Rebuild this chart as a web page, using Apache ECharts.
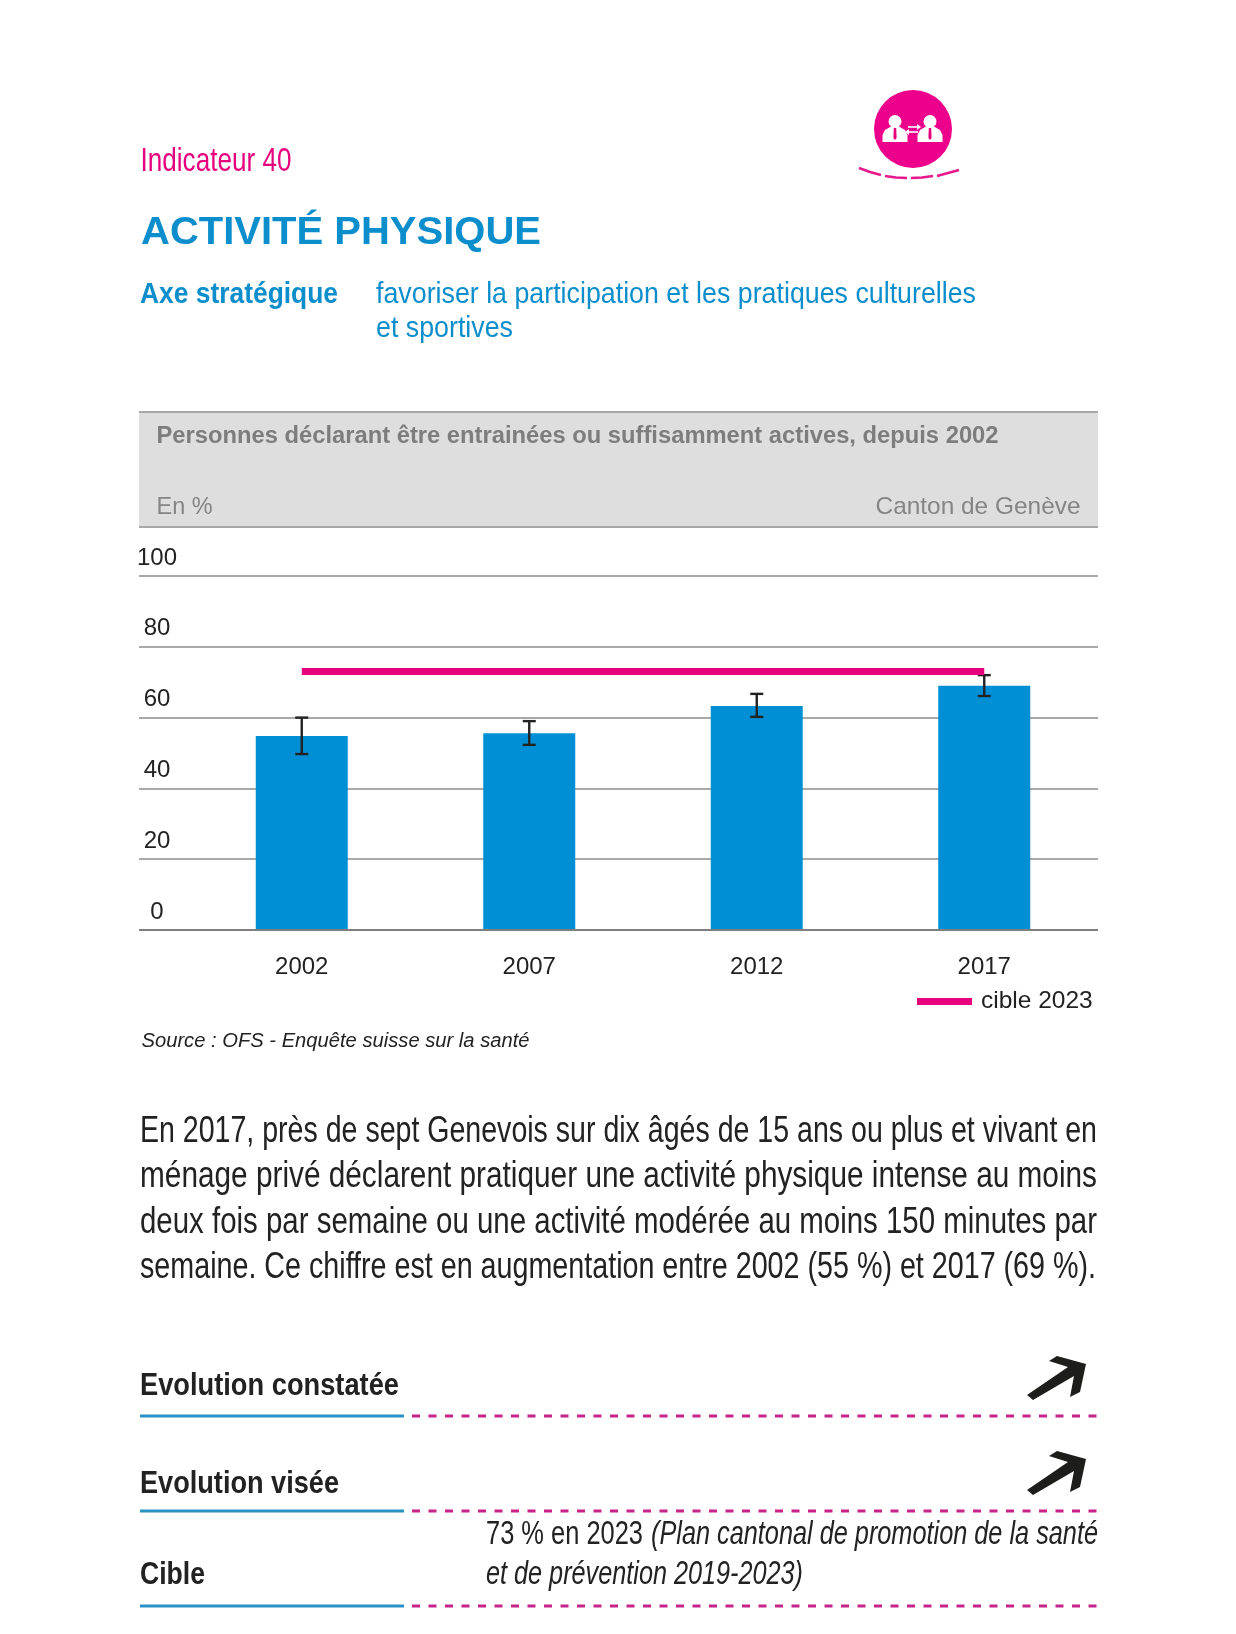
<!DOCTYPE html>
<html>
<head>
<meta charset="utf-8">
<title>Activité physique</title>
<script src="https://cdn.jsdelivr.net/npm/echarts@6/dist/echarts.min.js"></script>
<style>
html, body { margin: 0; padding: 0; background: #fff; }
#chart { width: 1236px; height: 1634px; }
</style>
</head>
<body>
<div id="chart"></div>
<script>
// donnees
var years = ['2002', '2007', '2012', '2017'];
var shares = [54.8, 55.6, 63.3, 69];
var errorHigh = [60, 59, 66.7, 72];
var errorLow = [49.7, 52.3, 60.2, 66.1];
var target = [73, 73, 73, 73];

var PINK = '#e6007e';
var BLUE = '#0b8ecb';
var INK = '#222222';
var FONT = '"Liberation Sans"';

var measure = document.createElement('canvas').getContext('2d');

// texte cale sur une largeur lue dans la page (la police d'origine est condensee)
function fitText(str, x, baseline, w, size, color, weight, slant) {
    var font = (slant || '') + ' ' + (weight || '') + ' ' + size + 'px ' + FONT;
    measure.font = font;
    return {
        type: 'text', silent: true,
        x: x, y: baseline - size * 0.27,
        scaleX: w / measure.measureText(str).width,
        style: { text: str, font: font, fill: color, textAlign: 'left', textVerticalAlign: 'middle' }
    };
}
function rule(x1, x2, y, color, width, dash) {
    return {
        type: 'line', silent: true,
        shape: { x1: x1, y1: y, x2: x2, y2: y },
        style: { stroke: color, lineWidth: width, lineDash: dash || null }
    };
}
function poly(points, fill) {
    return { type: 'polygon', silent: true, shape: { points: points }, style: { fill: fill } };
}
function stroke(points, color, width) {
    return { type: 'polyline', silent: true, shape: { points: points }, style: { stroke: color, lineWidth: width, fill: null } };
}
function arrow(dy) {
    var pts = [[1027, 1395], [1033, 1400], [1074, 1376], [1070, 1397], [1080, 1392], [1086, 1364], [1057, 1356], [1049, 1361], [1068, 1367]];
    return poly(pts.map(function (p) { return [p[0], p[1] + dy]; }), '#1d1d1b');
}
function person(cx) {
    return [
        { type: 'circle', silent: true, shape: { cx: cx, cy: 121.5, r: 6.5 }, style: { fill: '#fff' } },
        poly([[cx - 12.5, 142], [cx - 12.5, 135], [cx - 10, 130], [cx - 4, 126.5], [cx + 4, 126.5], [cx + 10, 130], [cx + 12.5, 135], [cx + 12.5, 142]], '#fff'),
        poly([[cx - 1.2, 128], [cx + 1.2, 128], [cx + 1.6, 138], [cx, 140], [cx - 1.6, 138]], PINK)
    ];
}

var decor = [
    // logo
    { type: 'circle', silent: true, shape: { cx: 913, cy: 129, r: 39 }, style: { fill: '#ec008c' } }
].concat(person(895), person(930), [
    rule(908, 918, 127, '#fff', 1.6),
    poly([[917, 124], [921, 127], [917, 130]], '#fff'),
    rule(908, 918, 132, '#fff', 1.6),
    poly([[909, 129], [905, 132], [909, 135]], '#fff'),
    stroke([[859, 168], [870, 172], [881, 175]], '#e5188c', 2.4),
    stroke([[885, 176], [896, 177.5], [907, 178]], '#e5188c', 2.4),
    stroke([[911, 178], [922, 177.5], [933, 176]], '#e5188c', 2.4),
    stroke([[937, 176], [948, 173], [959, 170]], '#e5188c', 2.4),

    // en-tete
    fitText('Indicateur 40', 140.5, 171, 151, 33, PINK),
    fitText('ACTIVITÉ PHYSIQUE', 141, 244, 400, 38, BLUE, 'bold'),
    fitText('Axe stratégique', 140, 303, 198, 30, BLUE, 'bold'),
    fitText('favoriser la participation et les pratiques culturelles', 376, 303, 600, 30, BLUE),
    fitText('et sportives', 376, 337, 137, 30, BLUE),

    // bandeau gris du graphique
    { type: 'rect', silent: true, shape: { x: 139, y: 412, width: 959, height: 115 }, style: { fill: '#dedede' } },
    rule(139, 1098, 412, '#a8a8a8', 2),
    rule(139, 1098, 527, '#a8a8a8', 2),
    fitText('Personnes déclarant être entrainées ou suffisamment actives, depuis 2002', 156.5, 443, 842, 23, '#7d7d7d', 'bold'),
    fitText('En %', 156.5, 514, 56, 24, '#858585'),
    fitText('Canton de Genève', 875.5, 514, 205, 24, '#858585'),

    fitText('Source : OFS - Enquête suisse sur la santé', 141.5, 1047, 388, 20, INK, '', 'italic'),

    // commentaire
    fitText('En 2017, près de sept Genevois sur dix âgés de 15 ans ou plus et vivant en', 140, 1142, 957, 36, INK),
    fitText('ménage privé déclarent pratiquer une activité physique intense au moins', 140, 1187, 957, 36, INK),
    fitText('deux fois par semaine ou une activité modérée au moins 150 minutes par', 140, 1233, 957, 36, INK),
    fitText('semaine. Ce chiffre est en augmentation entre 2002 (55 %) et 2017 (69 %).', 140, 1278, 956, 36, INK),

    // evolution
    fitText('Evolution constatée', 140, 1395, 259, 31, INK, 'bold'),
    fitText('Evolution visée', 140, 1493, 199, 31, INK, 'bold'),
    fitText('Cible', 140, 1584, 65, 31, INK, 'bold'),
    arrow(0), arrow(95),
    fitText('73 % en 2023', 486, 1544, 157, 33, INK),
    fitText('(Plan cantonal de promotion de la santé', 651, 1544, 447, 33, INK, '', 'italic'),
    fitText('et de prévention 2019-2023)', 486, 1584, 317, 33, INK, '', 'italic')
]);

[1416, 1511, 1606].forEach(function (y) {
    decor.push(rule(140, 404, y, '#2a93c4', 3));
    decor.push(rule(412, 1098, y, '#c7248a', 3, [8, 8.5]));
});

var myChart = echarts.init(document.getElementById('chart'));

option = {
    animation: false,
    backgroundColor: '#ffffff',
    textStyle: { fontFamily: FONT },
    graphic: { elements: decor },
    legend: {
        data: ['cible 2023'],
        left: 917,
        top: 989,
        padding: 0,
        icon: 'rect',
        itemWidth: 55,
        itemHeight: 7,
        itemGap: 0,
        selectedMode: false,
        textStyle: { color: INK, fontSize: 24.5, fontFamily: FONT, padding: [0, 0, 0, 4] }
    },
    // grille large pour les traits, grille etroite pour les barres
    grid: [
        { left: 139, top: 576, width: 959, height: 354 },
        { left: 188, top: 576, width: 910, height: 354 }
    ],
    xAxis: [
        {
            type: 'category', gridIndex: 0, data: [''], z: 5,
            axisLine: { lineStyle: { color: '#7f7f7f', width: 2, cap: 'butt' } },
            axisTick: { show: false }, axisLabel: { show: false }
        },
        {
            type: 'category', gridIndex: 1, data: years,
            axisLine: { show: false }, axisTick: { show: false },
            axisLabel: { color: INK, fontSize: 24, margin: 25.5, fontFamily: FONT }
        }
    ],
    yAxis: [
        {
            type: 'value', gridIndex: 0, min: 0, max: 100, interval: 20,
            axisLine: { show: false }, axisTick: { show: false },
            axisLabel: {
                inside: true, margin: 18, align: 'center', verticalAlign: 'bottom',
                padding: [0, 0, 6, 0], color: INK, fontSize: 24, fontFamily: FONT
            },
            splitLine: { lineStyle: { color: '#8c8c8c', width: 1.5 } }
        },
        { type: 'value', gridIndex: 1, min: 0, max: 100, interval: 20, show: false }
    ],
    series: [
        {
            name: 'part', type: 'bar', xAxisIndex: 1, yAxisIndex: 1,
            data: shares, barWidth: 92,
            itemStyle: { color: '#008fd5' }
        },
        {
            name: 'erreur', type: 'custom', xAxisIndex: 1, yAxisIndex: 1, z: 4,
            data: years.map(function (y, i) { return [i, errorLow[i], errorHigh[i]]; }),
            encode: { x: 0, y: [1, 2] },
            renderItem: function (params, api) {
                var low = api.coord([api.value(0), api.value(1)]);
                var high = api.coord([api.value(0), api.value(2)]);
                var s = { stroke: '#222222', lineWidth: 2.4, fill: null };
                var x = low[0];
                return {
                    type: 'group',
                    children: [
                        { type: 'line', shape: { x1: x, y1: low[1], x2: x, y2: high[1] }, style: s },
                        { type: 'line', shape: { x1: x - 6.5, y1: low[1], x2: x + 6.5, y2: low[1] }, style: s },
                        { type: 'line', shape: { x1: x - 6.5, y1: high[1], x2: x + 6.5, y2: high[1] }, style: s }
                    ]
                };
            }
        },
        {
            name: 'cible 2023', type: 'line', xAxisIndex: 1, yAxisIndex: 1, z: 5,
            data: target, showSymbol: false, symbol: 'none',
            itemStyle: { color: PINK },
            lineStyle: { color: PINK, width: 7, cap: 'butt' }
        }
    ]
};

myChart.setOption(option);
</script>
</body>
</html>
